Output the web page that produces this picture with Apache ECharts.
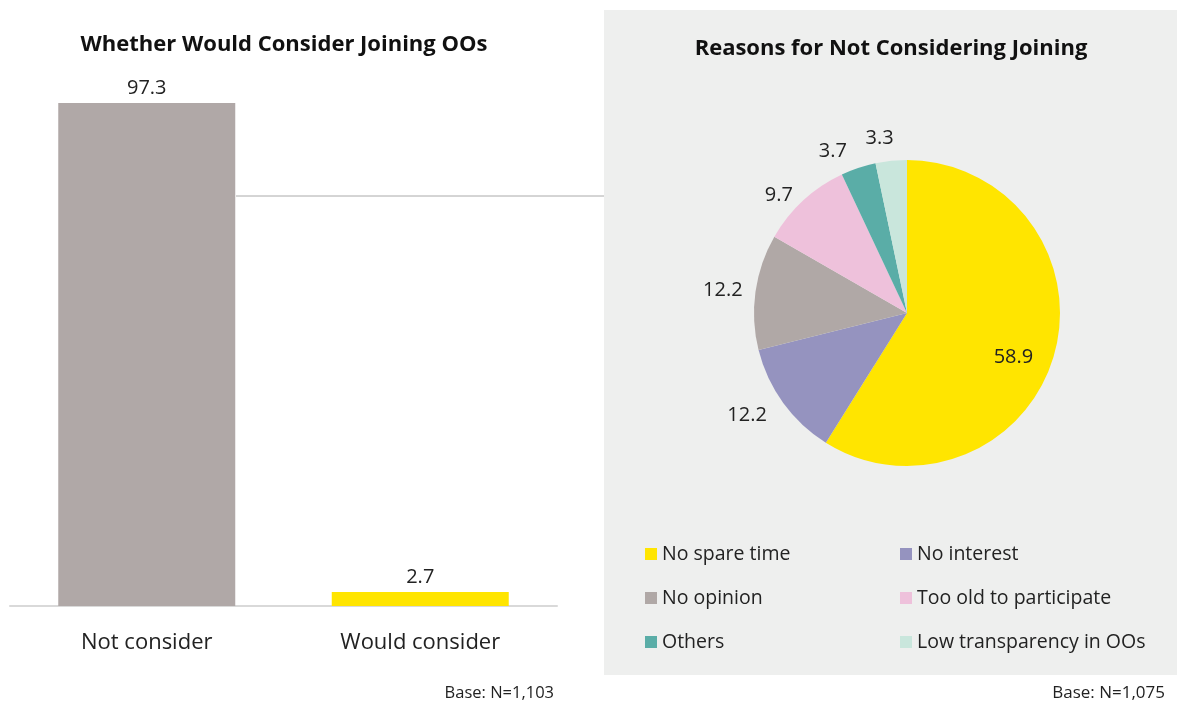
<!DOCTYPE html>
<html>
<head>
<meta charset="utf-8">
<script src="https://cdn.jsdelivr.net/npm/echarts@6/dist/echarts.min.js"></script>
<style>
  html, body { margin: 0; padding: 0; background: #fff; }
  #chart { width: 1177px; height: 704px; }
</style>
</head>
<body>
<div id="chart"></div>
<script>
// Left panel: whether respondents would consider joining
const barCategories = ['Not consider', 'Would consider'];
const barValues = [97.3, 2.7];
const barColors = ['#B0A8A7', '#FFE500'];

// Right panel: reasons for not considering joining
const reasonNames = ['No spare time', 'No interest', 'No opinion', 'Too old to participate', 'Others', 'Low transparency in OOs'];
const reasonValues = [58.9, 12.2, 12.2, 9.7, 3.7, 3.3];
const reasonColors = ['#FFE500', '#9593BF', '#B0A8A6', '#EEC1DB', '#5AADA7', '#C9E6DC'];

// Small nudges so the slice labels sit clear of the pie edge
const labelOffsets = [[30, 22], [2, 4], [8, 0], [6, 5], [0, -3], [11, -9]];

const FONT = '"Open Sans", "Noto Sans", sans-serif';
const chart = echarts.init(document.getElementById('chart'), null, { renderer: 'canvas' });

const option = {
  animation: false,
  textStyle: { fontFamily: FONT },
  title: [
    { text: 'Whether Would Consider Joining OOs', left: 279, top: 29, textAlign: 'center',
      textStyle: { fontFamily: FONT, fontSize: 22, fontWeight: 'bold', color: '#111' } },
    { text: 'Reasons for Not Considering Joining', left: 886, top: 33, textAlign: 'center',
      textStyle: { fontFamily: FONT, fontSize: 22, fontWeight: 'bold', color: '#111' } },
    { text: 'Base: N=1,103', right: 618, top: 680,
      textStyle: { fontFamily: FONT, fontSize: 16.5, fontWeight: 'normal', color: '#222' } },
    { text: 'Base: N=1,075', right: 7, top: 680,
      textStyle: { fontFamily: FONT, fontSize: 17, fontWeight: 'normal', color: '#222' } }
  ],
  graphic: [
    { type: 'rect', z: -10, silent: true,
      shape: { x: 604, y: 10, width: 573, height: 665 },
      style: { fill: '#EEEFEE' } },
    { type: 'line', z: 1, silent: true,
      shape: { x1: 236, y1: 196, x2: 604, y2: 196 },
      style: { stroke: '#AAAAAA', lineWidth: 1 } }
  ],
  legend: [
    { data: reasonNames.filter((_, i) => i % 2 === 0), orient: 'vertical', left: 640, top: 539,
      itemWidth: 12, itemHeight: 12, itemGap: 24, icon: 'rect', padding: 5,
      textStyle: { fontFamily: FONT, fontSize: 19.5, color: '#222', lineHeight: 20 } },
    { data: reasonNames.filter((_, i) => i % 2 === 1), orient: 'vertical', left: 895, top: 539,
      itemWidth: 12, itemHeight: 12, itemGap: 24, icon: 'rect', padding: 5,
      textStyle: { fontFamily: FONT, fontSize: 19.5, color: '#222', lineHeight: 20 } }
  ],
  grid: { left: 10, right: 620, top: 89, bottom: 98, containLabel: false },
  xAxis: {
    type: 'category', data: barCategories,
    axisLine: { lineStyle: { color: '#D9D9D9', width: 2 } },
    axisTick: { show: false },
    axisLabel: { margin: 26, fontFamily: FONT, fontSize: 22, color: '#222' }
  },
  yAxis: { type: 'value', min: 0, max: 100, show: false, splitLine: { show: false } },
  series: [
    {
      type: 'bar', barWidth: 177,
      data: barValues.map((v, i) => ({ value: v, itemStyle: { color: barColors[i] } })),
      label: { show: true, position: 'top', distance: 5, fontFamily: FONT, fontSize: 20, color: '#222',
               formatter: p => p.value.toFixed(1) }
    },
    {
      type: 'pie', center: [907, 313], radius: 153, startAngle: 90, clockwise: true,
      avoidLabelOverlap: false,
      data: reasonNames.map((n, i) => ({ name: n, value: reasonValues[i], itemStyle: { color: reasonColors[i] },
        label: i === 0 ? { position: 'inside', offset: labelOffsets[i] } : { offset: labelOffsets[i] } })),
      label: { show: true, position: 'outside', fontFamily: FONT, fontSize: 20, color: '#222',
               formatter: p => p.value.toFixed(1) },
      labelLine: { show: false, length: 14, length2: 2 },
      emphasis: { disabled: true }
    }
  ]
};
chart.setOption(option);
</script>
</body>
</html>
